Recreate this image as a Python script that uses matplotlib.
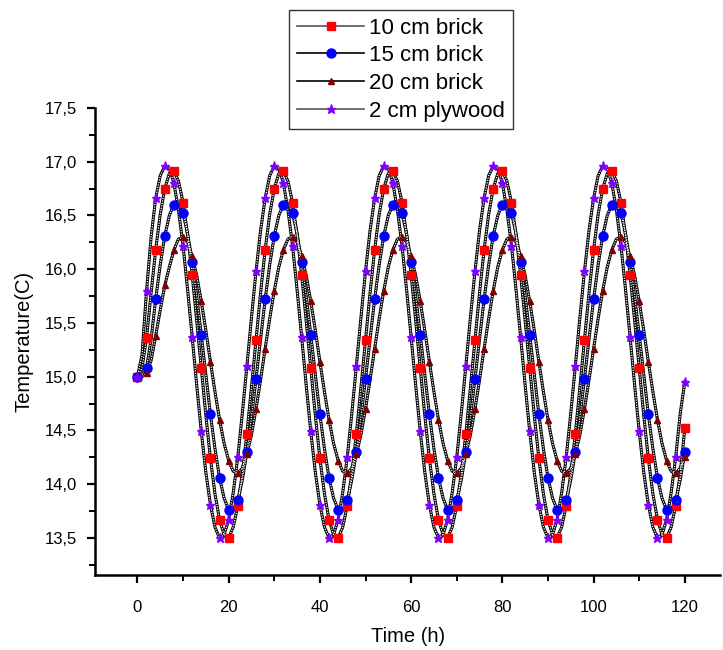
import matplotlib
matplotlib.use("Agg")
import matplotlib.pyplot as plt
import numpy as np
from matplotlib.lines import Line2D
from matplotlib.ticker import FuncFormatter, MultipleLocator

plt.rcParams["font.family"] = ["Liberation Sans", "DejaVu Sans"]

# time axis, one reading per hour
hours = np.arange(0, 121)

# temperatures (one row per 24 h cycle)
brick_10cm = [
    15.00, 15.08, 15.36, 15.78, 16.18, 16.51, 16.75, 16.89, 16.91, 16.82, 16.62, 16.32,
    15.95, 15.52, 15.08, 14.64, 14.24, 13.91, 13.67, 13.53, 13.50, 13.60, 13.80, 14.10,
    14.47, 14.90, 15.34, 15.78, 16.18, 16.51, 16.75, 16.89, 16.91, 16.82, 16.62, 16.32,
    15.95, 15.52, 15.08, 14.64, 14.24, 13.91, 13.67, 13.53, 13.50, 13.60, 13.80, 14.10,
    14.47, 14.90, 15.34, 15.78, 16.18, 16.51, 16.75, 16.89, 16.91, 16.82, 16.62, 16.32,
    15.95, 15.52, 15.08, 14.64, 14.24, 13.91, 13.67, 13.53, 13.50, 13.60, 13.80, 14.10,
    14.47, 14.90, 15.34, 15.78, 16.18, 16.51, 16.75, 16.89, 16.91, 16.82, 16.62, 16.32,
    15.95, 15.52, 15.08, 14.64, 14.24, 13.91, 13.67, 13.53, 13.50, 13.60, 13.80, 14.10,
    14.47, 14.90, 15.34, 15.78, 16.18, 16.51, 16.75, 16.89, 16.91, 16.82, 16.62, 16.32,
    15.95, 15.52, 15.08, 14.64, 14.24, 13.91, 13.67, 13.53, 13.50, 13.60, 13.80, 14.10,
    14.52,
]
brick_15cm = [
    15.00, 15.02, 15.08, 15.35, 15.72, 16.04, 16.31, 16.50, 16.60, 16.61, 16.52, 16.33,
    16.07, 15.75, 15.39, 15.02, 14.65, 14.33, 14.06, 13.87, 13.76, 13.76, 13.85, 14.04,
    14.30, 14.62, 14.98, 15.35, 15.72, 16.04, 16.31, 16.50, 16.60, 16.61, 16.52, 16.33,
    16.07, 15.75, 15.39, 15.02, 14.65, 14.33, 14.06, 13.87, 13.76, 13.76, 13.85, 14.04,
    14.30, 14.62, 14.98, 15.35, 15.72, 16.04, 16.31, 16.50, 16.60, 16.61, 16.52, 16.33,
    16.07, 15.75, 15.39, 15.02, 14.65, 14.33, 14.06, 13.87, 13.76, 13.76, 13.85, 14.04,
    14.30, 14.62, 14.98, 15.35, 15.72, 16.04, 16.31, 16.50, 16.60, 16.61, 16.52, 16.33,
    16.07, 15.75, 15.39, 15.02, 14.65, 14.33, 14.06, 13.87, 13.76, 13.76, 13.85, 14.04,
    14.30, 14.62, 14.98, 15.35, 15.72, 16.04, 16.31, 16.50, 16.60, 16.61, 16.52, 16.33,
    16.07, 15.75, 15.39, 15.02, 14.65, 14.33, 14.06, 13.87, 13.76, 13.76, 13.85, 14.04,
    14.30,
]
brick_20cm = [
    15.00, 15.00, 15.03, 15.15, 15.38, 15.62, 15.85, 16.02, 16.18, 16.28, 16.30, 16.25,
    16.12, 15.94, 15.70, 15.43, 15.14, 14.86, 14.60, 14.38, 14.22, 14.12, 14.10, 14.15,
    14.28, 14.46, 14.70, 14.97, 15.26, 15.54, 15.80, 16.02, 16.18, 16.28, 16.30, 16.25,
    16.12, 15.94, 15.70, 15.43, 15.14, 14.86, 14.60, 14.38, 14.22, 14.12, 14.10, 14.15,
    14.28, 14.46, 14.70, 14.97, 15.26, 15.54, 15.80, 16.02, 16.18, 16.28, 16.30, 16.25,
    16.12, 15.94, 15.70, 15.43, 15.14, 14.86, 14.60, 14.38, 14.22, 14.12, 14.10, 14.15,
    14.28, 14.46, 14.70, 14.97, 15.26, 15.54, 15.80, 16.02, 16.18, 16.28, 16.30, 16.25,
    16.12, 15.94, 15.70, 15.43, 15.14, 14.86, 14.60, 14.38, 14.22, 14.12, 14.10, 14.15,
    14.28, 14.46, 14.70, 14.97, 15.26, 15.54, 15.80, 16.02, 16.18, 16.28, 16.30, 16.25,
    16.12, 15.94, 15.70, 15.43, 15.14, 14.86, 14.60, 14.38, 14.22, 14.12, 14.10, 14.15,
    14.25,
]
plywood_2cm = [
    15.00, 15.20, 15.80, 16.30, 16.66, 16.87, 16.96, 16.94, 16.80, 16.55, 16.22, 15.81,
    15.37, 14.92, 14.49, 14.11, 13.81, 13.60, 13.50, 13.53, 13.67, 13.92, 14.25, 14.66,
    15.10, 15.55, 15.98, 16.36, 16.66, 16.87, 16.96, 16.94, 16.80, 16.55, 16.22, 15.81,
    15.37, 14.92, 14.49, 14.11, 13.81, 13.60, 13.50, 13.53, 13.67, 13.92, 14.25, 14.66,
    15.10, 15.55, 15.98, 16.36, 16.66, 16.87, 16.96, 16.94, 16.80, 16.55, 16.22, 15.81,
    15.37, 14.92, 14.49, 14.11, 13.81, 13.60, 13.50, 13.53, 13.67, 13.92, 14.25, 14.66,
    15.10, 15.55, 15.98, 16.36, 16.66, 16.87, 16.96, 16.94, 16.80, 16.55, 16.22, 15.81,
    15.37, 14.92, 14.49, 14.11, 13.81, 13.60, 13.50, 13.53, 13.67, 13.92, 14.25, 14.66,
    15.10, 15.55, 15.98, 16.36, 16.66, 16.87, 16.96, 16.94, 16.80, 16.55, 16.22, 15.81,
    15.37, 14.92, 14.49, 14.11, 13.81, 13.60, 13.50, 13.53, 13.67, 13.92, 14.25, 14.66,
    14.95,
]

labels = ["10 cm brick", "15 cm brick", "20 cm brick", "2 cm plywood"]
series = [brick_10cm, brick_15cm, brick_20cm, plywood_2cm]

styles = [
    dict(marker="s", color="#ff0000", ms=5.5),
    dict(marker="o", color="#0000ff", ms=6.5),
    dict(marker="^", color="#800000", ms=5.0),
    dict(marker="*", color="#8000ff", ms=6.5),
]
legend_line = ["#555555", "black", "black", "#555555"]

fig = plt.figure(figsize=(7.23, 6.5), dpi=100)
ax = fig.add_axes([0.1314, 0.1154, 0.865, 0.7186])

# black curves with a light stipple, like the scanned original
for vals in series:
    ax.plot(hours, vals, color="black", lw=2.2, zorder=2)
for vals in series:
    ax.plot(hours, vals, color="white", lw=0.9, ls=(0, (1, 1)), zorder=3)
for vals, st in zip(series, styles):
    ax.plot(hours, vals, ls="none", marker=st["marker"], ms=st["ms"],
            mfc=st["color"], mec=st["color"], markevery=2, zorder=4)

ax.set_xlim(-9.3, 127.8)
ax.set_ylim(13.155, 17.5)
ax.xaxis.set_major_locator(MultipleLocator(20))
ax.xaxis.set_minor_locator(MultipleLocator(10))
ax.yaxis.set_major_locator(MultipleLocator(0.5))
ax.yaxis.set_minor_locator(MultipleLocator(0.25))
ax.yaxis.set_major_formatter(FuncFormatter(lambda v, _: f"{v:.1f}".replace(".", ",")))
ax.xaxis.set_major_formatter(FuncFormatter(lambda v, _: f"{v:.0f}"))

for side in ("top", "right"):
    ax.spines[side].set_visible(False)
for side in ("left", "bottom"):
    ax.spines[side].set_linewidth(1.8)
ax.tick_params(axis="x", which="major", pad=12)
ax.tick_params(axis="y", which="major", pad=7)
ax.tick_params(which="major", direction="out", length=6, width=1.6, labelsize=12)
ax.tick_params(which="minor", direction="out", length=4, width=1.4)

ax.set_xlabel("Time (h)", fontsize=14.5, labelpad=9)
ax.set_ylabel("Temperature(C)", fontsize=14.5, labelpad=8)

handles = [
    Line2D([], [], color=lc, lw=1.2, marker=st["marker"], ms=st["ms"],
           mfc=st["color"], mec=st["color"])
    for st, lc in zip(styles, legend_line)
]
leg = fig.legend(handles, labels, loc="upper center", bbox_to_anchor=(0.555, 1.002),
                 fontsize=16, frameon=True, fancybox=False, edgecolor="black",
                 handlelength=3.0, handletextpad=0.25, labelspacing=0.3, borderpad=0.35)
leg.get_frame().set_linewidth(1.0)

fig.savefig("out.png", dpi=100)
plt.close(fig)
